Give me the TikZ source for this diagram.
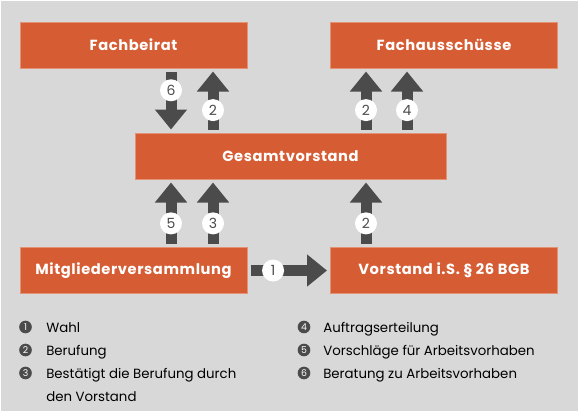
\documentclass[tikz,border=0pt]{standalone}
\usepackage{fontspec}
\setmainfont{Poppins}
\newfontfamily\boxfont[LetterSpace=4]{Poppins}
\usetikzlibrary{arrows.meta}

\definecolor{boxorange}{RGB}{214,92,51}
\definecolor{boxedge}{RGB}{228,146,118}
\definecolor{arrowgray}{RGB}{75,75,75}
\definecolor{bggray}{RGB}{216,216,216}

\tikzset{
    orgbox/.style={draw=boxedge, line width=0.75pt, fill=boxorange, text=white, inner sep=0pt,
        minimum width=170.25pt, minimum height=34.5pt, font=\boxfont\bfseries\fontsize{11}{13}\selectfont},
    blockarrow/.style={draw=arrowgray, line width=8.25pt, -{Triangle[length=15pt, width=23.25pt]},
        shorten >=2.25pt, shorten <=2.25pt},
    numcirc/.style={circle, fill=white, text=arrowgray, inner sep=0pt, minimum size=16.5pt,
        font=\fontsize{10.5}{12}\selectfont},
    legnum/.style={circle, fill=arrowgray, text=white, inner sep=0pt, minimum size=9.5pt,
        font=\fontsize{7}{8}\selectfont},
    legtext/.style={anchor=base west, inner sep=0pt, align=left, font=\fontsize{10}{17.25}\selectfont}
}

\begin{document}
\begin{tikzpicture}[x=0.75pt,y=0.75pt,yscale=-1,xscale=1]

% background
    \fill[white] (0,0) rectangle (580,415);
    \fill[bggray] (1,1) rectangle (578,411);

% boxes
    \node[orgbox] (beirat) at (133.5,45) {Fachbeirat};
    \node[orgbox] (ausschuss) at (444,45) {Fachausschüsse};
    \node[orgbox, minimum width=233.25pt] (gesamt) at (290.5,156) {Gesamtvorstand};
    \node[orgbox] (mitglieder) at (133.5,270.5) {Mitgliederversammlung};
    \node[orgbox] (vorstand) at (444,270.5) {Vorstand i.S. § 26 BGB};

% arrow columns
    \coordinate (colA) at (171,0);
    \coordinate (colB) at (213,0);
    \coordinate (colC) at (366,0);
    \coordinate (colD) at (407,0);

% arrows
    \draw[blockarrow] (beirat.south -| colA) -- node[numcirc, pos=.34] {6} (gesamt.north -| colA);
    \draw[blockarrow] (gesamt.north -| colB) -- node[numcirc, pos=.35] {2} (beirat.south -| colB);
    \draw[blockarrow] (gesamt.north -| colC) -- node[numcirc, pos=.35] {2} (ausschuss.south -| colC);
    \draw[blockarrow] (gesamt.north -| colD) -- node[numcirc, pos=.35] {4} (ausschuss.south -| colD);
    \draw[blockarrow] (mitglieder.north -| colA) -- node[numcirc, pos=.35] {5} (gesamt.south -| colA);
    \draw[blockarrow] (mitglieder.north -| colB) -- node[numcirc, pos=.35] {3} (gesamt.south -| colB);
    \draw[blockarrow] (vorstand.north -| colC) -- node[numcirc, pos=.35] {2} (gesamt.south -| colC);
    \draw[blockarrow] (mitglieder.east) -- node[numcirc, pos=.31] {1} (vorstand.west);

% legend
    \foreach \num/\y in {1/327,2/350,3/373} {
        \node[legnum] (leg\num) at (25.5,\y) {\num};
    }
    \foreach \num/\y in {4/327,5/350,6/373} {
        \node[legnum] (leg\num) at (304,\y) {\num};
    }
    \node[legtext] (wahl) at (46,332.5) {Wahl};
    \node[legtext] (berufung) at (46,355.5) {Berufung};
    % last line sits on the base anchor
    \node[legtext] (bestaetigt) at (46,401.5) {Bestätigt die Berufung durch\\den Vorstand};
    \node[legtext] (auftrag) at (323,332.5) {Auftragserteilung};
    \node[legtext] (vorschlag) at (323,355.5) {Vorschläge für Arbeitsvorhaben};
    \node[legtext] (beratung) at (323,378.5) {Beratung zu Arbeitsvorhaben};

\end{tikzpicture}
\end{document}
